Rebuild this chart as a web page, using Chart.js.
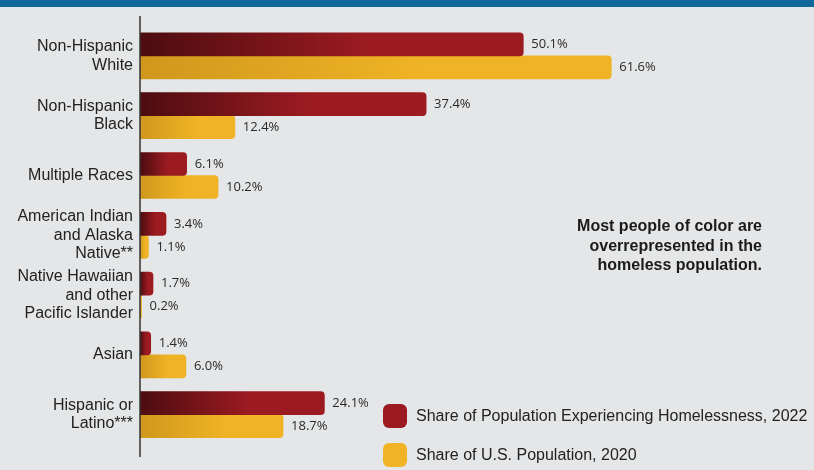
<!DOCTYPE html>
<html>
<head>
<meta charset="utf-8">
<script src="https://cdn.jsdelivr.net/npm/chart.js@4.4.1/dist/chart.umd.min.js"></script>
<style>
  html, body { margin: 0; padding: 0; background: #e5e6e7; }
  #wrap { position: relative; width: 814px; height: 470px; }
</style>
</head>
<body>
<div id="wrap"><canvas id="chart" width="814" height="470"></canvas></div>
<script>
// Categories (y axis), multi-line labels
const categories = [
    ['Non-Hispanic', 'White'],
    ['Non-Hispanic', 'Black'],
    ['Multiple Races'],
    ['American Indian', 'and Alaska', 'Native**'],
    ['Native Hawaiian', 'and other', 'Pacific Islander'],
    ['Asian'],
    ['Hispanic or', 'Latino***']
];

// Series values (%)
const homeless2022 = [50.1, 37.4, 6.1, 3.4, 1.7, 1.4, 24.1];
const usPop2020 = [61.6, 12.4, 10.2, 1.1, 0.2, 6.0, 18.7];

const seriesNames = [
    'Share of Population Experiencing Homelessness, 2022',
    'Share of U.S. Population, 2020'
];

const noteLines = [
    'Most people of color are',
    'overrepresented in the',
    'homeless population.'
];

const palette = {
    red: ['#4c0c10', '#9c1b21'],
    gold: ['#cf981d', '#f0b325'],
    bg: '#e5e6e7',
    band: '#0f6898',
    text: '#222'
};

// gradient along each bar, from the axis to the bar end
function barGradient(stops) {
    return (context) => {
        const chart = context.chart;
        if (!chart.chartArea || context.type !== 'data') return stops[1];
        const x = chart.scales.x;
        const x0 = x.getPixelForValue(0);
        const x1 = x.getPixelForValue(context.raw);
        if (!isFinite(x0) || !isFinite(x1) || x1 - x0 < 1) return stops[1];
        const g = chart.ctx.createLinearGradient(x0, 0, x1, 0);
        g.addColorStop(0, stops[0]);
        g.addColorStop(0.6, stops[1]);
        g.addColorStop(1, stops[1]);
        return g;
    };
}

const extras = {
    id: 'extras',
    beforeDraw(chart) {
        const c = chart.ctx;
        c.save();
        c.fillStyle = palette.bg;
        c.fillRect(0, 0, chart.width, chart.height);
        c.fillStyle = palette.band;
        c.fillRect(0, 0, chart.width, 7);
        c.restore();
    },
    afterDatasetsDraw(chart) {
        const c = chart.ctx;
        c.save();

        // axis line
        const ax = chart.scales.x.getPixelForValue(0);
        c.strokeStyle = '#333';
        c.lineWidth = 1.5;
        c.beginPath();
        c.moveTo(ax, 16);
        c.lineTo(ax, 457);
        c.stroke();

        // value labels
        c.font = '13px "Open Sans", sans-serif';
        c.fillStyle = '#2a2a2a';
        c.textBaseline = 'middle';
        c.textAlign = 'left';
        chart.data.datasets.forEach((ds, i) => {
            chart.getDatasetMeta(i).data.forEach((bar, j) => {
                c.fillText(ds.data[j].toFixed(1) + '%', bar.x + 8, bar.y);
            });
        });

        // note
        c.font = 'bold 16px "Liberation Sans", Arial, sans-serif';
        c.fillStyle = '#1a1a1a';
        c.textAlign = 'right';
        noteLines.forEach((t, i) => c.fillText(t, 762, 227 + i * 19.5));

        // legend
        c.font = '16px "Liberation Sans", Arial, sans-serif';
        c.textAlign = 'left';
        const swatch = [palette.red[1], palette.gold[1]];
        [416, 455].forEach((y, i) => {
            c.fillStyle = swatch[i];
            c.beginPath();
            c.roundRect(383, y - 12, 24, 24, 6);
            c.fill();
            c.fillStyle = palette.text;
            c.fillText(seriesNames[i], 416, y + 1);
        });
        c.restore();
    }
};

new Chart(document.getElementById('chart'), {
    type: 'bar',
    data: {
        labels: categories,
        datasets: [
            {
                label: seriesNames[0],
                data: homeless2022,
                backgroundColor: barGradient(palette.red),
                borderRadius: 4,
                borderSkipped: 'start',
                barThickness: 23,
                categoryPercentage: 0.82
            },
            {
                label: seriesNames[1],
                data: usPop2020,
                backgroundColor: barGradient(palette.gold),
                borderRadius: 4,
                borderSkipped: 'start',
                barThickness: 23,
                categoryPercentage: 0.82
            }
        ]
    },
    options: {
        indexAxis: 'y',
        responsive: false,
        animation: false,
        layout: { padding: { top: 26, bottom: 24, left: 0, right: 0 } },
        plugins: {
            legend: { display: false },
            tooltip: { enabled: false }
        },
        scales: {
            x: { display: false, min: 0, max: 88.1 },
            y: {
                grid: { display: false, drawTicks: false },
                border: { display: false },
                afterFit: (scale) => { scale.width = 140; },
                ticks: {
                    padding: 7,
                    color: palette.text,
                    font: { size: 16, family: '"Liberation Sans", Arial, sans-serif', lineHeight: 1.15 }
                }
            }
        }
    },
    plugins: [extras]
});
</script>
</body>
</html>
